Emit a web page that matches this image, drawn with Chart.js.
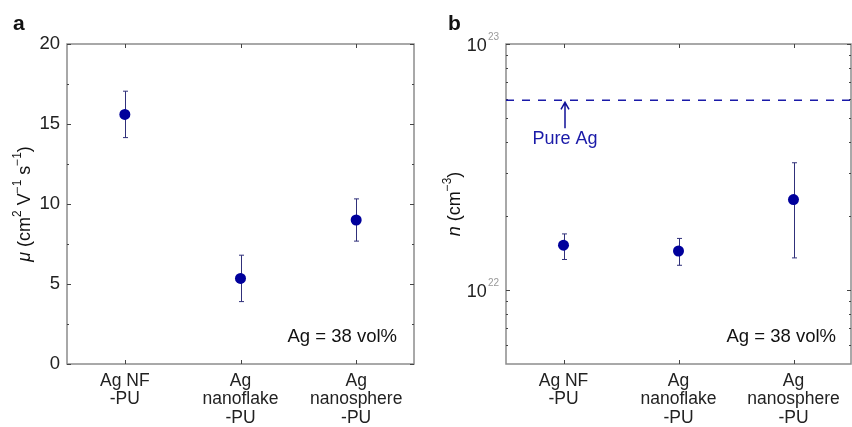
<!DOCTYPE html>
<html>
<head>
<meta charset="utf-8">
<script src="https://cdn.jsdelivr.net/npm/chart.js@4/dist/chart.umd.min.js"></script>
<style>
  html, body { margin: 0; padding: 0; background: #fff; }
  #wrap { position: relative; width: 852px; height: 427px; overflow: hidden; }
  #chartA { position: absolute; left: 0; top: 0; }
  #chartB { position: absolute; left: 430px; top: 0; }
</style>
</head>
<body>
<div id="wrap">
  <canvas id="chartA" width="430" height="427"></canvas>
  <canvas id="chartB" width="422" height="427"></canvas>
</div>
<script>
// Data
const categories = [['Ag NF', '-PU'], ['Ag', 'nanoflake', '-PU'], ['Ag', 'nanosphere', '-PU']];

// panel a: mobility (cm2 V-1 s-1)
const mobility = [15.6, 5.35, 9.0];
const mobilityErr = [1.45, 1.45, 1.32];
const mobilityTicks = [0, 5, 10, 15, 20];
const mobilityMinor = [2.5, 7.5, 12.5, 17.5];

// panel b: carrier density (cm-3)
const density = [1.52e22, 1.44e22, 2.33e22];
const densityLow = [1.33e22, 1.26e22, 1.35e22];
const densityHigh = [1.69e22, 1.62e22, 3.29e22];
const densityDecades = [1e22, 1e23];
const densityMinor = [6e21, 7e21, 8e21, 9e21, 2e22, 3e22, 4e22, 5e22, 6e22, 7e22, 8e22, 9e22];
const pureAg = 5.9e22;

const noteText = 'Ag = 38 vol%';

const FONT = '"Liberation Sans", Arial, sans-serif';
const MARK = '#00009c';
const BAR = '#30307a';
const FRAME = '#8c8c8c';

// draw a run of text pieces (normal, italic, superscript)
function drawRich(ctx, parts, size) {
    const sup = size * 0.66;
    let widths = parts.map(p => {
        ctx.font = (p.it ? 'italic ' : '') + (p.sup ? sup : size) + 'px ' + FONT;
        return ctx.measureText(p.t).width;
    });
    let total = widths.reduce((a, b) => a + b, 0);
    let x = -total / 2;
    parts.forEach((p, i) => {
        ctx.font = (p.it ? 'italic ' : '') + (p.sup ? sup : size) + 'px ' + FONT;
        ctx.fillText(p.t, x, p.sup ? -size * 0.38 : 0);
        x += widths[i];
    });
}

// frame, inside ticks, error bars and text
const decorPlugin = {
    id: 'decor',
    beforeDatasetsDraw(chart, args, opts) {
        const ctx = chart.ctx;
        const a = chart.chartArea;
        const xs = chart.scales.x, ys = chart.scales.y;
        ctx.save();
        // box
        ctx.strokeStyle = FRAME;
        ctx.lineWidth = 1.5;
        ctx.strokeRect(a.left, a.top, a.right - a.left, a.bottom - a.top);
        // ticks
        ctx.strokeStyle = '#444';
        ctx.lineWidth = 1;
        categories.forEach((c, i) => {
            const x = Math.round(xs.getPixelForValue(i)) + 0.5;
            ctx.beginPath();
            ctx.moveTo(x, a.top); ctx.lineTo(x, a.top + 4);
            ctx.moveTo(x, a.bottom); ctx.lineTo(x, a.bottom - 4);
            ctx.stroke();
        });
        const tick = (v, len) => {
            const y = Math.round(ys.getPixelForValue(v)) + 0.5;
            ctx.beginPath();
            ctx.moveTo(a.left, y); ctx.lineTo(a.left + len, y);
            ctx.moveTo(a.right, y); ctx.lineTo(a.right - len, y);
            ctx.stroke();
        };
        opts.major.forEach(v => tick(v, 4));
        opts.minor.forEach(v => tick(v, 2));

        // reference line (panel b)
        if (opts.refLine) {
            const y = ys.getPixelForValue(opts.refLine);
            ctx.strokeStyle = '#1a1aa8';
            ctx.lineWidth = 1.5;
            ctx.setLineDash([8, 8]);
            ctx.beginPath();
            ctx.moveTo(a.left, y); ctx.lineTo(a.right, y);
            ctx.stroke();
            ctx.setLineDash([]);
            const x = xs.getPixelForValue(0) + 1.5;
            ctx.lineWidth = 1.5;
            ctx.strokeStyle = '#101098';
            ctx.beginPath();
            ctx.moveTo(x, y + 2); ctx.lineTo(x, y + 28);
            ctx.moveTo(x - 4, y + 9); ctx.lineTo(x, y + 2); ctx.lineTo(x + 4, y + 9);
            ctx.stroke();
            ctx.fillStyle = '#1a1aa8';
            ctx.font = '18px ' + FONT;
            ctx.textAlign = 'center';
            ctx.textBaseline = 'alphabetic';
            ctx.fillText('Pure Ag', x, y + 44);
        }

        // error bars
        ctx.strokeStyle = BAR;
        ctx.lineWidth = 1;
        opts.low.forEach((lo, i) => {
            const x = Math.round(xs.getPixelForValue(i)) + 0.5;
            const y1 = ys.getPixelForValue(lo), y2 = ys.getPixelForValue(opts.high[i]);
            ctx.beginPath();
            ctx.moveTo(x, y1); ctx.lineTo(x, y2);
            ctx.moveTo(x - 2.5, y1); ctx.lineTo(x + 2.5, y1);
            ctx.moveTo(x - 2.5, y2); ctx.lineTo(x + 2.5, y2);
            ctx.stroke();
        });
        ctx.restore();
    },
    afterDraw(chart, args, opts) {
        const ctx = chart.ctx;
        const a = chart.chartArea;
        const ys = chart.scales.y;
        ctx.save();
        ctx.fillStyle = '#111';
        // panel letter
        ctx.font = 'bold 21px ' + FONT;
        ctx.textAlign = 'left';
        ctx.textBaseline = 'alphabetic';
        ctx.fillText(opts.letter, opts.letterX, 29.5);
        // note
        ctx.font = '18.5px ' + FONT;
        ctx.textAlign = 'right';
        ctx.fillText(noteText, a.right - opts.noteRight, 341.5);
        // y title
        ctx.save();
        ctx.translate(opts.titleX, (a.top + a.bottom) / 2);
        ctx.rotate(-Math.PI / 2);
        ctx.textAlign = 'left';
        ctx.textBaseline = 'middle';
        drawRich(ctx, opts.title, 18);
        ctx.restore();
        // decade labels for log axis
        if (opts.decades) {
            opts.decades.forEach(v => {
                const y = ys.getPixelForValue(v);
                const exp = String(Math.round(Math.log10(v)));
                ctx.font = '10px ' + FONT;
                const ew = ctx.measureText(exp).width;
                ctx.textAlign = 'right';
                ctx.textBaseline = 'middle';
                ctx.fillStyle = '#999';
                ctx.fillText(exp, a.left - 7, y - 7);
                ctx.font = '18px ' + FONT;
                ctx.fillStyle = '#222';
                ctx.fillText('10', a.left - 7 - ew - 1, y + 2);
            });
        }
        ctx.restore();
    }
};

function xScale() {
    return {
        type: 'category',
        labels: categories,
        offset: true,
        grid: { display: false, drawTicks: false },
        border: { display: false },
        ticks: {
            color: '#222',
            padding: 8,
            maxRotation: 0,
            autoSkip: false,
            font: { family: FONT, size: 17.5, lineHeight: 1.05 }
        },
        afterFit(scale) {
            scale.height = 63;
            scale.paddingLeft = 0;
            scale.paddingRight = 0;
        }
    };
}

function point(values) {
    return values.map((v, i) => ({ x: i, y: v }));
}

new Chart(document.getElementById('chartA'), {
    type: 'scatter',
    data: {
        datasets: [{
            data: point(mobility),
            backgroundColor: MARK,
            borderWidth: 0,
            pointRadius: 5.5,
            pointHoverRadius: 5.5
        }]
    },
    options: {
        responsive: false,
        animation: false,
        events: [],
        layout: { autoPadding: false, padding: { top: 44, right: 16, bottom: 0, left: 0 } },
        plugins: {
            legend: { display: false },
            tooltip: { enabled: false },
            decor: {
                letter: 'a', letterX: 13, noteRight: 17, titleX: 25,
                major: mobilityTicks, minor: mobilityMinor,
                low: mobility.map((v, i) => v - mobilityErr[i]),
                high: mobility.map((v, i) => v + mobilityErr[i]),
                title: [{ t: 'μ', it: true }, { t: ' (cm' }, { t: '2', sup: true }, { t: ' V' },
                        { t: '−1', sup: true }, { t: ' s' }, { t: '−1', sup: true }, { t: ')' }]
            }
        },
        scales: {
            x: xScale(),
            y: {
                min: 0, max: 20,
                grid: { display: false, drawTicks: false },
                border: { display: false },
                ticks: {
                    stepSize: 5,
                    padding: 7,
                    color: '#222',
                    font: { family: FONT, size: 18.5 }
                },
                afterFit(scale) { scale.width = 67; }
            }
        }
    },
    plugins: [decorPlugin]
});

new Chart(document.getElementById('chartB'), {
    type: 'scatter',
    data: {
        datasets: [{
            data: point(density),
            backgroundColor: MARK,
            borderWidth: 0,
            pointRadius: 5.5,
            pointHoverRadius: 5.5
        }]
    },
    options: {
        responsive: false,
        animation: false,
        events: [],
        layout: { autoPadding: false, padding: { top: 44, right: 1, bottom: 0, left: 0 } },
        plugins: {
            legend: { display: false },
            tooltip: { enabled: false },
            decor: {
                letter: 'b', letterX: 18, noteRight: 15, titleX: 25,
                major: densityDecades, minor: densityMinor,
                low: densityLow, high: densityHigh,
                refLine: pureAg,
                decades: densityDecades,
                title: [{ t: 'n', it: true }, { t: ' (cm' }, { t: '−3', sup: true }, { t: ')' }]
            }
        },
        scales: {
            x: xScale(),
            y: {
                type: 'logarithmic',
                min: 5e21, max: 1e23,
                grid: { display: false, drawTicks: false },
                border: { display: false },
                ticks: { display: false },
                afterFit(scale) { scale.width = 76; }
            }
        }
    },
    plugins: [decorPlugin]
});
</script>
</body>
</html>
